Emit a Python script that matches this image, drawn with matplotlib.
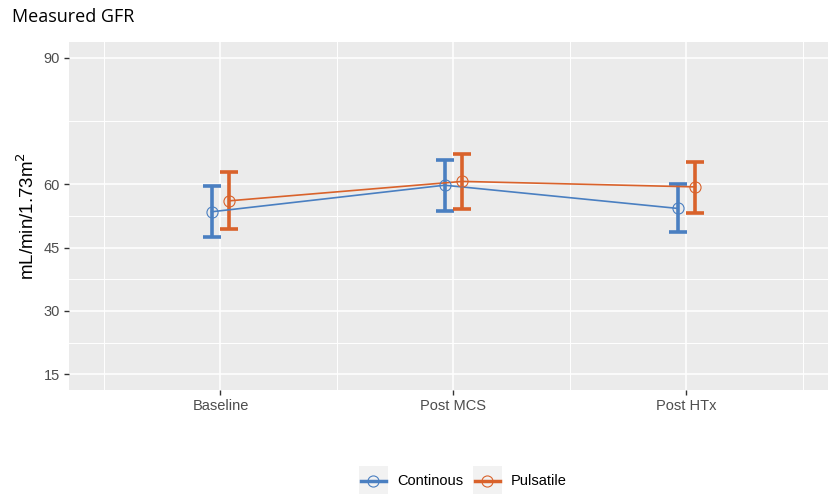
import matplotlib
matplotlib.use("Agg")
import matplotlib.pyplot as plt
from matplotlib.lines import Line2D
from matplotlib.patches import Rectangle
import numpy as np

# ---- data ----
categories = ["Baseline", "Post MCS", "Post HTx"]
series_names = ["Continous", "Pulsatile"]
cont_mean = [53.5, 59.8, 54.3]
cont_low = [47.6, 53.7, 48.8]
cont_high = [59.5, 65.8, 60.0]
puls_mean = [56.1, 60.7, 59.4]
puls_low = [49.4, 54.1, 53.2]
puls_high = [62.9, 67.2, 65.4]
y_ticks = [15, 30, 45, 60, 90]
title = "Measured GFR"
y_label = "mL/min/1.73m$^2$"

colors = ["#4A7FC1", "#D9622B"]
W, H = 829, 494
fig = plt.figure(figsize=(W / 100, H / 100), dpi=100)
L, R, T, B = 69, 829, 42, 390
ax = fig.add_axes([L / W, 1 - B / H, (R - L) / W, (B - T) / H])
ax.set_facecolor("#EBEBEB")
for s in ax.spines.values():
    s.set_visible(False)

x = np.arange(1, len(categories) + 1)
dodge = 0.038
series = [(cont_mean, cont_low, cont_high), (puls_mean, puls_low, puls_high)]
offsets = [-dodge, dodge]
for (m, lo, hi), off, c in zip(series, offsets, colors):
    xs = x + off
    m = np.array(m); lo = np.array(lo); hi = np.array(hi)
    ax.errorbar(xs, m, yerr=[m - lo, hi - m], fmt="none", ecolor=c,
                elinewidth=2.6, capsize=6.4, capthick=2.6, zorder=3)
    ax.plot(xs, m, color=c, lw=1.2, zorder=4)
    ax.plot(xs, m, "o", mfc="none", mec=c, ms=8, mew=0.8, zorder=5)

ax.set_xlim(0.35, 0.35 + (R - L) / 233.0)
ax.set_ylim(11.25, 93.75)
ax.set_xticks(x)
ax.set_xticklabels(categories)
ax.set_xticks([0.5, 1.5, 2.5, 3.5], minor=True)
ax.set_yticks(y_ticks)
ax.set_yticks([22.5, 37.5, 52.5, 75], minor=True)
ax.grid(which="major", color="white", lw=1.1, zorder=0)
ax.grid(which="minor", color="white", lw=0.7, zorder=0)
ax.set_axisbelow(True)
ax.tick_params(which="major", length=3.5, width=1.0, color="#333333",
               labelsize=10.5, labelcolor="#4D4D4D", pad=3)
ax.tick_params(which="minor", length=0)
for lab in ax.get_xticklabels() + ax.get_yticklabels():
    lab.set_fontfamily("Liberation Sans")
ax.set_ylabel(y_label, fontsize=13.5, family="Liberation Sans", labelpad=4)

fig.text(12 / W, 1 - 17 / H, title, fontsize=13, family="Open Sans",
         ha="left", va="center")

# legend (manual, ggplot-style keys)
key_y = 481
keys = [(359, 397), (473, 511)]
for (kx, tx), c, name in zip(keys, colors, series_names):
    fig.add_artist(Rectangle((kx / W, 1 - 494 / H), 29 / W, 28 / H,
                             transform=fig.transFigure, facecolor="#F2F2F2",
                             edgecolor="none"))
    fig.add_artist(Line2D([(kx + 2) / W, (kx + 27) / W], [1 - key_y / H] * 2,
                          transform=fig.transFigure, color=c, lw=2.5))
    fig.add_artist(Line2D([(kx + 14.5) / W], [1 - key_y / H],
                          transform=fig.transFigure, marker="o", mfc="none",
                          mec=c, ms=8, mew=0.8, lw=0))
    fig.text(tx / W, 1 - key_y / H, name, fontsize=10.5,
             family="Liberation Sans", ha="left", va="center")

fig.savefig("out.png", dpi=100)
